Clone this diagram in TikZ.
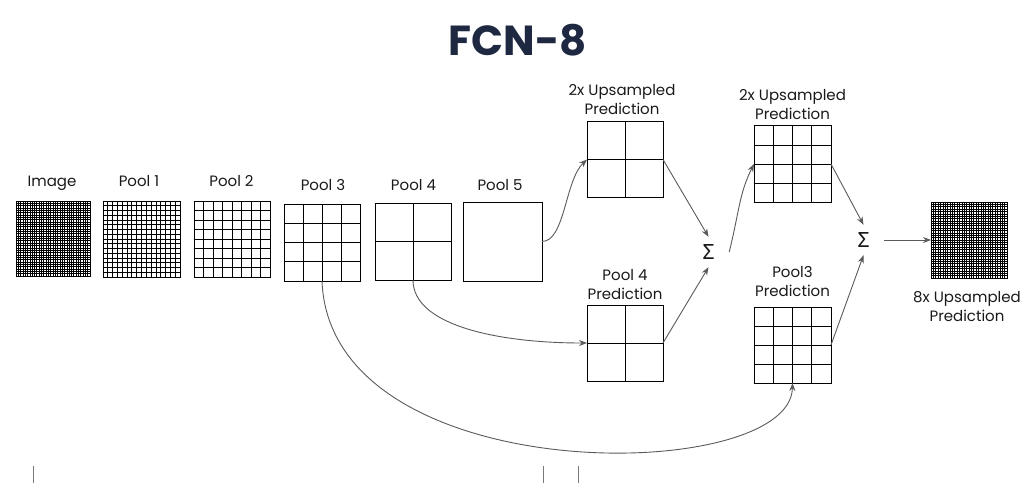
\documentclass[tikz,border=0pt]{standalone}
\usepackage{fontspec}
\setmainfont{Poppins}
\newfontfamily\sigmafont{Noto Sans}
\usetikzlibrary{calc,arrows.meta}
\definecolor{titleblue}{RGB}{30,40,64}
\definecolor{arrowgray}{RGB}{90,90,90}
\definecolor{labelblack}{RGB}{25,25,25}
\definecolor{tickgray}{RGB}{120,120,120}
\newcommand{\boxgrid}[3][]{%
  \pgfmathtruncatemacro{\gridlast}{#3-1}%
  \foreach \gi in {1,...,\gridlast}{%
    \draw[gridline,#1] ($(#2.south west)!\gi/#3!(#2.south east)$) -- ($(#2.north west)!\gi/#3!(#2.north east)$);
    \draw[gridline,#1] ($(#2.south west)!\gi/#3!(#2.north west)$) -- ($(#2.south east)!\gi/#3!(#2.north east)$);
  }}
\tikzset{
  fmap/.style={draw=black, line width=1pt, inner sep=0pt, outer sep=0pt},
  gridline/.style={black, line width=0.8pt},
  densegrid/.style={line width=0.7pt},
  lbl/.style={font=\fontsize{15}{19}\selectfont, text=labelblack, inner sep=0pt, align=center},
  conn/.style={draw=arrowgray, line width=0.9pt, -{Stealth[length=8pt,width=6pt]}},
  sumnode/.style={font=\sigmafont\fontsize{21}{21}\selectfont, text=labelblack, minimum width=41pt, minimum height=30pt, inner sep=0pt},
  tickline/.style={draw=tickgray, line width=0.9pt},
}
\begin{document}
\begin{tikzpicture}[x=1pt, y=1pt]
\useasboundingbox (0,0) rectangle (1020,483);

% title
\node[font=\fontsize{42}{42}\selectfont\bfseries, text=titleblue, anchor=base, inner sep=0pt] (title) at (518,427) {FCN-8};

% feature maps
\node[fmap, minimum width=74pt, minimum height=75pt] (img) at (53,244.5) {};
\node[fmap, minimum width=77pt, minimum height=76pt] (p1) at (141.5,244) {};
\node[fmap, minimum width=76pt, minimum height=76pt] (p2) at (232,244) {};
\node[fmap, minimum width=76pt, minimum height=77pt] (p3) at (322,240.5) {};
\node[fmap, minimum width=76pt, minimum height=77pt] (p4) at (413,241.5) {};
\node[fmap, minimum width=79pt, minimum height=79pt] (p5) at (502.5,241.5) {};
\node[fmap, minimum width=76pt, minimum height=75pt] (up1) at (625,323.5) {};
\node[fmap, minimum width=76pt, minimum height=76pt] (p4pred) at (625,140) {};
\node[fmap, minimum width=77pt, minimum height=76pt] (up2) at (792.5,319) {};
\node[fmap, minimum width=77pt, minimum height=76pt] (p3pred) at (792.5,138) {};
\node[fmap, minimum width=76pt, minimum height=76pt] (out) at (969,243) {};

\boxgrid[densegrid]{img}{32}
\boxgrid{p1}{16}
\boxgrid{p2}{8}
\boxgrid{p3}{4}
\boxgrid{p4}{2}
\boxgrid{up1}{2}
\boxgrid{p4pred}{2}
\boxgrid{up2}{4}
\boxgrid{p3pred}{4}
\boxgrid[densegrid]{out}{32}

% labels
\node[lbl, anchor=base] (limg) at (52,297) {Image};
\node[lbl, anchor=base] (lp1) at (139,296.5) {Pool 1};
\node[lbl, anchor=base] (lp2) at (231.5,297) {Pool 2};
\node[lbl, anchor=base] (lp3) at (323,293) {Pool 3};
\node[lbl, anchor=base] (lp4) at (413.5,292.5) {Pool 4};
\node[lbl, anchor=base] (lp5) at (500,292.5) {Pool 5};
\node[lbl, anchor=south] (lup1) at (622,368) {2x Upsampled\\Prediction};
\node[lbl, anchor=south] (lup2) at (792.5,363) {2x Upsampled\\Prediction};
\node[lbl, anchor=south] (lp4pred) at (625,183) {Pool 4\\Prediction};
\node[lbl, anchor=south] (lp3pred) at (792.5,186) {Pool3\\Prediction};
\node[lbl, anchor=south] (lout) at (967,161) {8x Upsampled\\Prediction};

% sums
\node[sumnode] (s1) at (708.5,231) {Σ};
\node[sumnode] (s2) at (863.5,243) {Σ};

% connectors
\draw[conn] (p5.east) .. controls +(23,0) and +(-22,-20.5) .. (up1.west);
\draw[conn] (up1.east) -- (s1.north);
\draw[conn] (p4pred.east) -- (s1.south);
\draw[conn] (p4.south) .. controls +(0,-46) and +(-87,0) .. (p4pred.west);
\draw[conn] (s1.east) .. controls +(10,40) and +(-15,-30) .. (up2.west);
\draw[conn] (up2.east) -- (s2.north);
\draw[conn] (p3pred.east) -- (s2.south);
\draw[conn] (s2.east) -- (out.west);
\draw[conn] (p3.south) .. controls +(8,-211) and +(-2,-102) .. (p3pred.south);

% small marks at the bottom edge
\draw[tickline] (33,0) -- (33,17);
\draw[tickline] (543,0) -- (543,17);
\draw[tickline] (578,0) -- (578,17);
\end{tikzpicture}
\end{document}
